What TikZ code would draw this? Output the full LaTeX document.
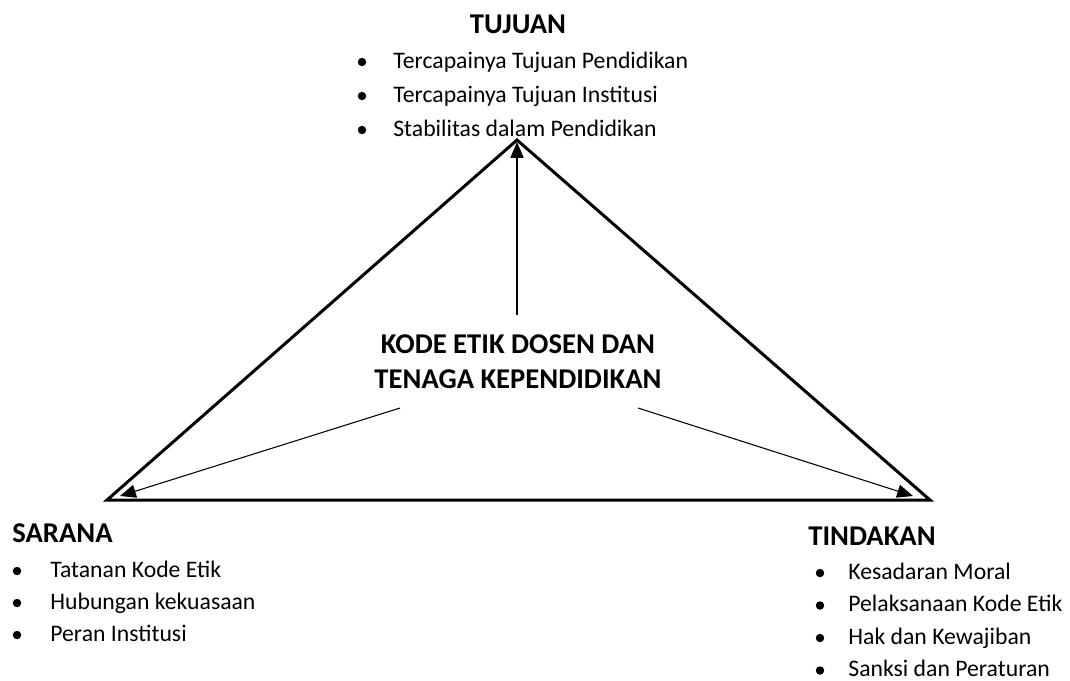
\documentclass[tikz,border=0pt]{standalone}
\usepackage{fontspec}
\setmainfont{Carlito}
\usepackage{tikz}
\usetikzlibrary{positioning, arrows.meta, calc}
\tikzstyle{judul} = [font=\fontsize{16.3}{20}\selectfont\bfseries, inner sep=0pt]
\tikzstyle{butir} = [font=\fontsize{13.5}{16}\selectfont, inner sep=0pt, anchor=base west]
\tikzstyle{titik} = [circle, fill=black, inner sep=0pt, minimum size=4.8pt]
\tikzstyle{sisi} = [line width=1.7pt, line join=miter]
\tikzstyle{arrow} = [line width=0.6pt, -{Triangle[length=9pt,width=7.5pt]}]

\begin{document}
\begin{tikzpicture}[x=0.02cm, y=-0.02cm]
		\useasboundingbox (0,0) rectangle (1070,680);
		\coordinate (puncak) at (517,140);
		\coordinate (kiri) at (107,500);
		\coordinate (kanan) at (930,500);
		\draw [sisi] (puncak) -- (kanan) -- (kiri) -- cycle;
		\node (kode) [judul, align=center] at (518,362) {KODE ETIK DOSEN DAN\\TENAGA KEPENDIDIKAN};
		\coordinate (kodeA) at (517,315);
		\coordinate (kodeB) at (400,408);
		\coordinate (kodeC) at (638,408);
		\coordinate (ujungA) at (517,142);
		\coordinate (ujungB) at (120,496);
		\coordinate (ujungC) at (913,496);
		\draw [arrow] (kodeA) -- (ujungA);
		\draw [arrow] (kodeB) -- (ujungB);
		\draw [arrow] (kodeC) -- (ujungC);
		\node (tujuan) [judul, anchor=base] at (518,33) {TUJUAN};
		\node (sarana) [judul, anchor=base west] at (12,542) {SARANA};
		\node (tindakan) [judul, anchor=base west] at (808,545) {TINDAKAN};
		\foreach \teks [count=\i] in {Tercapainya Tujuan Pendidikan, Tercapainya Tujuan Institusi, Stabilitas dalam Pendidikan}{
			\node (tujT\i) [titik] at (362,{28+34*\i}) {};
			\node (tuj\i) [butir] at (393,{34+34*\i}) {\teks};
		}
		\foreach \teks [count=\i] in {Tatanan Kode Etik, Hubungan kekuasaan, Peran Institusi}{
			\node (sarT\i) [titik] at (17,{539+32*\i}) {};
			\node (sar\i) [butir] at (50,{545+32*\i}) {\teks};
		}
		\foreach \teks [count=\i] in {Kesadaran Moral, Pelaksanaan Kode Etik, Hak dan Kewajiban, Sanksi dan Peraturan}{
			\node (tinT\i) [titik] at (820,{540.5+32.5*\i}) {};
			\node (tin\i) [butir] at (848,{546.5+32.5*\i}) {\teks};
		}
	\end{tikzpicture}
\end{document}
